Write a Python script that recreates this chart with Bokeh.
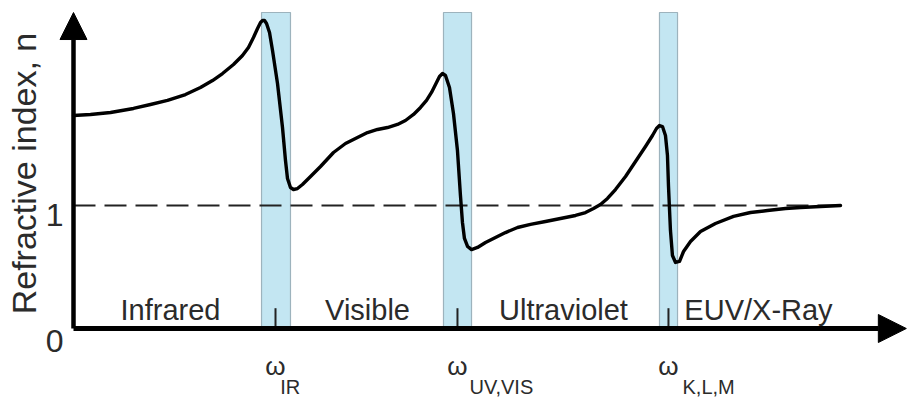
import math
from bokeh.plotting import figure
from bokeh.models import Range1d, Arrow, NormalHead, Label
from bokeh.core.properties import value
from bokeh.embed import file_html
from bokeh.resources import INLINE

# ---- data (frequency in arbitrary units 0-100, refractive index n) ----
freq = [0.00, 2.04, 4.45, 7.21, 9.25, 11.30, 13.46, 15.26, 16.71, 17.91, 19.23, 20.31,
        21.03, 21.63, 22.12, 22.48, 22.72, 22.96, 23.20, 23.56, 23.92, 24.52, 25.12, 25.48,
        25.72, 26.08, 26.44, 26.92, 27.52, 28.49, 29.69, 31.25, 32.69, 34.13, 35.34, 36.54,
        37.74, 38.94, 39.90, 40.87, 41.71, 42.43, 43.03, 43.63, 43.99, 44.35, 44.71, 45.19,
        45.67, 46.15, 46.51, 46.75, 46.99, 47.36, 47.84, 48.56, 49.52, 50.72, 51.92, 53.37,
        54.93, 56.73, 58.53, 60.34, 61.54, 62.50, 63.34, 64.18, 65.14, 66.35, 67.55, 68.75,
        69.59, 70.07, 70.43, 70.79, 71.15, 71.39, 71.51, 71.75, 71.99, 72.36, 72.84, 73.32,
        74.16, 75.36, 77.16, 79.33, 81.37, 83.41, 85.58, 87.38, 89.78, 92.19]
n_index = [1.732, 1.740, 1.756, 1.789, 1.821, 1.854, 1.902, 1.959, 2.016, 2.073, 2.146, 2.220,
           2.285, 2.366, 2.439, 2.488, 2.504, 2.504, 2.480, 2.407, 2.260, 1.992, 1.634, 1.366,
           1.220, 1.146, 1.130, 1.138, 1.171, 1.236, 1.317, 1.431, 1.504, 1.553, 1.593, 1.618,
           1.634, 1.659, 1.691, 1.740, 1.797, 1.854, 1.919, 2.000, 2.049, 2.073, 2.057, 1.959,
           1.748, 1.447, 1.081, 0.862, 0.732, 0.667, 0.642, 0.659, 0.699, 0.740, 0.780, 0.821,
           0.846, 0.870, 0.894, 0.919, 0.943, 0.976, 1.008, 1.057, 1.130, 1.236, 1.358, 1.480,
           1.569, 1.626, 1.650, 1.642, 1.569, 1.407, 1.163, 0.797, 0.593, 0.537, 0.545, 0.626,
           0.707, 0.789, 0.854, 0.911, 0.943, 0.959, 0.976, 0.984, 0.992, 1.000]

band_left = [22.60, 44.47, 70.43]
band_right = [26.08, 47.84, 72.60]
band_top = 2.569
resonance = [24.28, 46.15, 71.51]
omega_subs = ["IR", "UV,VIS", "K,L,M"]
omega_sub_x = [24.85, 47.60, 73.20]

regions = ["Infrared", "Visible", "Ultraviolet", "EUV/X-Ray"]
region_x = [11.66, 35.34, 58.89, 82.33]

ytick_values = [0, 1]
ytick_labels = ["0", "1"]

FONT_S = "'Liberation Sans', Arial, sans-serif"
FONT = value(FONT_S)
TXT = "#2b2b2b"

p = figure(width=909, height=398, output_backend="svg", toolbar_location=None,
           x_range=Range1d(-8.774, 100.481), y_range=Range1d(-0.5691, 2.6667),
           min_border=0, title=None)
p.xaxis.visible = False
p.yaxis.visible = False
p.grid.visible = False
p.outline_line_color = None
p.background_fill_color = "white"

# resonance bands
p.quad(left=band_left, right=band_right, bottom=0, top=band_top,
       fill_color="#c3e6f2", line_color="#9db3bd", line_width=1.2)

# dashed n = 1 line
p.line(x=[0, 92.5], y=[1, 1], line_color="#222222", line_width=2.2, line_dash="22 9")

# resonance tick marks
p.segment(x0=resonance, y0=[0] * 3, x1=resonance, y1=[0.165] * 3,
          line_color="#222222", line_width=2)

# dispersion curve
p.line(x=freq, y=n_index, line_color="#000000", line_width=3.4, line_join="round",
       line_cap="round")

# axes with arrow heads
p.add_layout(Arrow(end=NormalHead(size=27, fill_color="black", line_color="black"),
                   x_start=0, y_start=0, x_end=0, y_end=band_top,
                   line_width=4.5, line_color="black"))
p.add_layout(Arrow(end=NormalHead(size=28, fill_color="black", line_color="black"),
                   x_start=0, y_start=0, x_end=100.1, y_end=0,
                   line_width=5, line_color="black"))

# region labels
p.text(x=region_x, y=[0.15] * 4, text=regions, text_font=FONT, text_font_size="29px",
       text_color=TXT, text_align="center", text_baseline="alphabetic")

# omega labels
p.text(x=resonance, y=[-0.301] * 3, text=["\u03c9"] * 3, text_font=FONT,
       text_font_size="26px", text_color=TXT, text_align="center",
       text_baseline="alphabetic")
p.text(x=omega_sub_x, y=[-0.472] * 3, text=omega_subs, text_font=FONT,
       text_font_size="20px", text_color=TXT, text_align="left",
       text_baseline="alphabetic")

# y tick labels
p.text(x=[-1.2] * 2, y=[-0.098, 0.919], text=ytick_labels, text_font=FONT,
       text_font_size="32px", text_color=TXT, text_align="right",
       text_baseline="alphabetic")

# y axis label
p.add_layout(Label(x=-5.9, y=1.26, text="Refractive index, n", angle=math.pi / 2,
                   text_font=FONT_S, text_font_size="34px", text_color=TXT,
                   text_align="center", text_baseline="middle"))

open("out.html", "w").write(file_html(p, INLINE))
